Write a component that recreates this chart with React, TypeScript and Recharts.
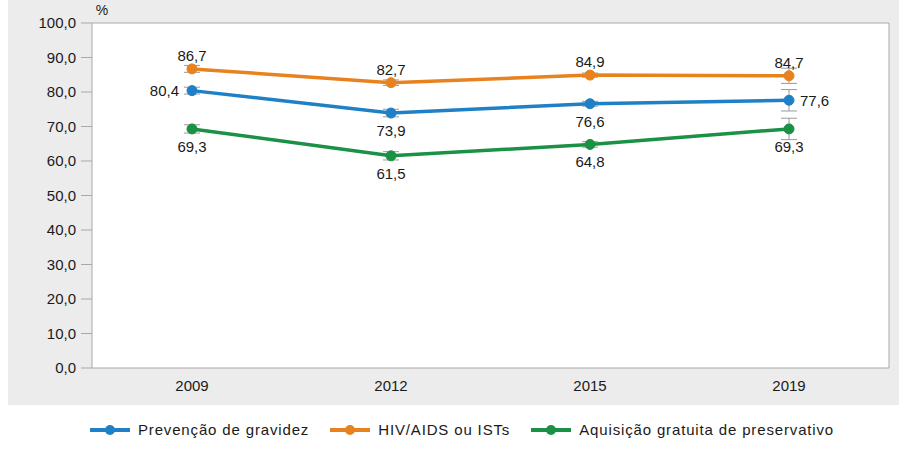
import { LineChart, Line, XAxis, YAxis, CartesianGrid, ErrorBar, LabelList } from "recharts";

const YEARS = ["2009", "2012", "2015", "2019"]

const PREVENCAO = [80.4, 73.9, 76.6, 77.6]
const HIV = [86.7, 82.7, 84.9, 84.7]
const AQUISICAO = [69.3, 61.5, 64.8, 69.3]

// estimated half-width of the confidence intervals
const PREVENCAO_ERR = [1.0, 1.1, 0.7, 3.1]
const HIV_ERR = [1.0, 0.8, 0.6, 2.2]
const AQUISICAO_ERR = [1.2, 1.2, 0.8, 3.1]

const Y_TICKS = [0, 10, 20, 30, 40, 50, 60, 70, 80, 90, 100]

const SERIES = [
    { key: "prevencao", name: "Prevenção de gravidez", color: "#1f80c6", labels: ["left", "bottom", "bottom", "right"] },
    { key: "hiv", name: "HIV/AIDS ou ISTs", color: "#e8821f", labels: ["top", "top", "top", "top"] },
    { key: "aquisicao", name: "Aquisição gratuita de preservativo", color: "#1b9146", labels: ["bottom", "bottom", "bottom", "bottom"] },
]

const FONT = "'Liberation Sans', Arial, sans-serif"
const TEXT_COLOR = "#1a1a1a"
const AXIS_COLOR = "#a9a9a9"

const data = YEARS.map((year, i) => ({
    year,
    prevencao: PREVENCAO[i],
    prevencaoErr: PREVENCAO_ERR[i],
    hiv: HIV[i],
    hivErr: HIV_ERR[i],
    aquisicao: AQUISICAO[i],
    aquisicaoErr: AQUISICAO_ERR[i],
}))

const fmt = (v: number) => v.toFixed(1).replace(".", ",")

function makeLabel(positions: string[]) {
    return (props: any) => {
        const { x, y, value, index } = props
        const pos = positions[index]
        let tx = x
        let ty = y
        let anchor: "middle" | "start" | "end" = "middle"
        if (pos === "top") ty = y - 8
        if (pos === "bottom") ty = y + 23
        if (pos === "left") { tx = x - 13; ty = y + 5.5; anchor = "end" }
        if (pos === "right") { tx = x + 11; ty = y + 5.5; anchor = "start" }
        return (
            <text x={tx} y={ty} textAnchor={anchor} fontSize={15} fill={TEXT_COLOR} fontFamily={FONT}>
                {fmt(Number(value))}
            </text>
        )
    }
}

function LegendIcon({ color }: { color: string }) {
    return (
        <svg width={40} height={12} style={{ display: "block" }}>
            <line x1={0} y1={6} x2={40} y2={6} stroke={color} strokeWidth={4} />
            <circle cx={20} cy={6} r={5} fill={color} />
        </svg>
    )
}

export default function App() {
    return (
        <div style={{ position: "absolute", left: 8, top: 0, width: 891, height: 450, background: "#fff", fontFamily: FONT }}>
            <div style={{ background: "#ececec", width: 891, height: 405 }}>
                <LineChart width={891} height={405} data={data} margin={{ top: 22, right: 9, left: 0, bottom: 7 }}>
                    <CartesianGrid fill="#fff" horizontal={false} vertical={false} />
                    <XAxis
                        dataKey="year"
                        height={30}
                        padding={{ left: 100, right: 100 }}
                        tickLine={false}
                        tickSize={6}
                        tickMargin={6}
                        axisLine={{ stroke: AXIS_COLOR }}
                        tick={{ fill: TEXT_COLOR, fontSize: 15, fontFamily: FONT }}
                    />
                    {/* top and right axes only draw the plot frame */}
                    <XAxis xAxisId="top" orientation="top" dataKey="year" height={1} tick={false} tickLine={false} axisLine={{ stroke: AXIS_COLOR }} />
                    <YAxis
                        domain={[0, 100]}
                        ticks={Y_TICKS}
                        width={84}
                        tickSize={11}
                        tickMargin={5}
                        tickFormatter={fmt}
                        axisLine={{ stroke: AXIS_COLOR }}
                        tickLine={{ stroke: AXIS_COLOR }}
                        tick={{ fill: TEXT_COLOR, fontSize: 15, fontFamily: FONT }}
                        label={{ value: "%", position: "top", offset: 8, dx: 52, fontSize: 14, fill: TEXT_COLOR, fontFamily: FONT }}
                    />
                    <YAxis yAxisId="right" orientation="right" domain={[0, 100]} width={1} tick={false} tickLine={false} axisLine={{ stroke: AXIS_COLOR }} />
                    {SERIES.map((s) => (
                        <Line
                            key={s.key}
                            dataKey={s.key}
                            name={s.name}
                            stroke={s.color}
                            strokeWidth={3.5}
                            dot={{ r: 5, fill: s.color, stroke: s.color, strokeWidth: 1 }}
                            activeDot={false}
                            isAnimationActive={false}
                        >
                            <ErrorBar dataKey={`${s.key}Err`} width={8} stroke="#9a9a9a" strokeWidth={1} direction="y" />
                            <LabelList dataKey={s.key} content={makeLabel(s.labels)} />
                        </Line>
                    ))}
                </LineChart>
            </div>
            <div style={{ display: "flex", justifyContent: "center", alignItems: "center", gap: 21, paddingLeft: 17, marginTop: 16, fontSize: 15, letterSpacing: 0.85, color: TEXT_COLOR }}>
                {SERIES.map((s) => (
                    <div key={s.key} style={{ display: "flex", alignItems: "center" }}>
                        <LegendIcon color={s.color} />
                        <span style={{ marginLeft: 8 }}>{s.name}</span>
                    </div>
                ))}
            </div>
        </div>
    )
}
